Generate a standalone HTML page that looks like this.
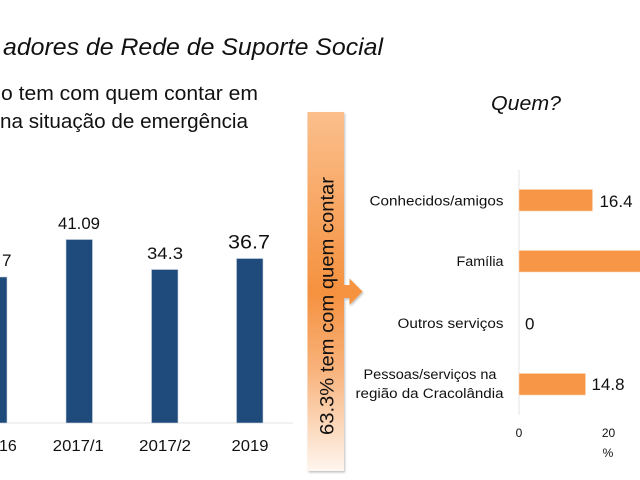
<!DOCTYPE html>
<html><head><meta charset="utf-8"><style>
html,body{margin:0;padding:0;background:#fff;}
svg{display:block;}
text{font-family:"Liberation Sans",sans-serif;fill:#111;}
</style></head><body>
<svg width="640" height="480" viewBox="0 0 640 480" xmlns="http://www.w3.org/2000/svg">
<defs>
<linearGradient id="pg" x1="0" y1="0" x2="0" y2="1">
<stop offset="0" stop-color="#fbbf8c"/>
<stop offset="0.5" stop-color="#f5913f"/>
<stop offset="0.72" stop-color="#f8b37c"/>
<stop offset="1" stop-color="#fff6ef"/>
</linearGradient>
<filter id="sh" x="-20%" y="-5%" width="150%" height="110%">
<feDropShadow dx="1" dy="1.5" stdDeviation="1" flood-color="#000" flood-opacity="0.25"/>
</filter>
</defs>

<!-- Title -->
<text x="3" y="55" font-size="24" font-style="italic" textLength="380" lengthAdjust="spacingAndGlyphs">adores de Rede de Suporte Social</text>
<text x="1" y="100" font-size="20" textLength="257" lengthAdjust="spacingAndGlyphs">o tem com quem contar em</text>
<text x="0" y="128" font-size="20" textLength="248" lengthAdjust="spacingAndGlyphs">na situação de emergência</text>

<!-- Left bar chart -->
<line x1="0" y1="423" x2="293" y2="423" stroke="#e3e3e3" stroke-width="1"/>
<g fill="#1f4a7c" stroke="#c9d3e0" stroke-width="0.6">
<rect x="-2" y="277" width="9" height="146"/>
<rect x="66" y="239.5" width="26.5" height="183.5"/>
<rect x="151.5" y="269.5" width="26.5" height="153.5"/>
<rect x="236.5" y="258.5" width="26.5" height="164.5"/>
</g>
<text x="2" y="266" font-size="17">7</text>
<text x="79" y="229" font-size="17" text-anchor="middle" textLength="42" lengthAdjust="spacingAndGlyphs">41.09</text>
<text x="165" y="259" font-size="17" text-anchor="middle" textLength="36" lengthAdjust="spacingAndGlyphs">34.3</text>
<text x="249" y="248.5" font-size="19.5" text-anchor="middle" textLength="42" lengthAdjust="spacingAndGlyphs">36.7</text>
<text x="-1" y="451" font-size="16">16</text>
<text x="78.3" y="451" font-size="16" text-anchor="middle" textLength="51" lengthAdjust="spacingAndGlyphs">2017/1</text>
<text x="165" y="451" font-size="16" text-anchor="middle" textLength="52" lengthAdjust="spacingAndGlyphs">2017/2</text>
<text x="250" y="451" font-size="16" text-anchor="middle" textLength="37" lengthAdjust="spacingAndGlyphs">2019</text>

<!-- Panel + arrow -->
<g filter="url(#sh)">
<rect x="307.5" y="112" width="36.5" height="359" fill="url(#pg)"/>
<path d="M343.5 285 L349.5 285 L349.5 278.5 L362.5 291.5 L349.5 305 L349.5 298 L343.5 298 Z" fill="#f5933f"/>
</g>
<text transform="translate(333.5,306) rotate(-90)" font-size="19" text-anchor="middle" textLength="258" lengthAdjust="spacingAndGlyphs">63.3% tem com quem contar</text>

<!-- Right chart -->
<text x="491" y="110" font-size="20" font-style="italic" textLength="70" lengthAdjust="spacingAndGlyphs">Quem?</text>
<line x1="519" y1="170" x2="519" y2="415" stroke="#e3e3e3" stroke-width="1"/>
<g fill="#f79646" stroke="#fbd3b0" stroke-width="0.6">
<rect x="519" y="189.5" width="73.5" height="21.5"/>
<rect x="519" y="250.5" width="130" height="21.5"/>
<rect x="519" y="373.5" width="66.5" height="21.5"/>
</g>
<text x="599.5" y="207" font-size="17" textLength="33" lengthAdjust="spacingAndGlyphs">16.4</text>
<text x="525" y="329.5" font-size="17">0</text>
<text x="591.5" y="390" font-size="17" textLength="33" lengthAdjust="spacingAndGlyphs">14.8</text>

<g font-size="13.5" text-anchor="end">
<text x="503.5" y="205.5" textLength="134" lengthAdjust="spacingAndGlyphs">Conhecidos/amigos</text>
<text x="503.5" y="266" textLength="47" lengthAdjust="spacingAndGlyphs">Família</text>
<text x="503.5" y="328" textLength="106" lengthAdjust="spacingAndGlyphs">Outros serviços</text>
<text x="496.5" y="379" textLength="133" lengthAdjust="spacingAndGlyphs">Pessoas/serviços na</text>
<text x="503.5" y="398" textLength="148" lengthAdjust="spacingAndGlyphs">região da Cracolândia</text>
</g>
<text x="519" y="437" font-size="12" text-anchor="middle">0</text>
<text x="608.5" y="437" font-size="12" text-anchor="middle">20</text>
<text x="608" y="457" font-size="12" text-anchor="middle">%</text>
</svg>
</body></html>
